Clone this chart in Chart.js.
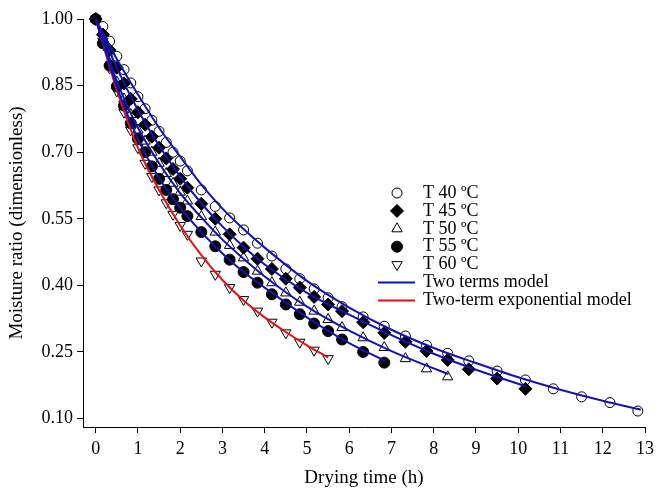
<!DOCTYPE html>
<html>
<head>
<meta charset="utf-8">
<script src="https://cdn.jsdelivr.net/npm/chart.js@4.4.0/dist/chart.umd.min.js"></script>
<style>
    html, body { margin: 0; padding: 0; background: #fff; }
    #kontener { width: 659px; height: 489px; }
</style>
</head>
<body>
<div id="kontener"><canvas id="canvasWykresu" width="659" height="489"></canvas></div>
<script>
// pomiary (czas w h, MR)
const czas40 = [0, 0.17, 0.33, 0.5, 0.67, 0.83, 1, 1.17, 1.33, 1.5, 1.67, 1.83, 2, 2.17, 2.5, 2.83, 3.17, 3.5, 3.83, 4.17, 4.5, 4.83, 5.17, 5.5, 5.83, 6.33, 6.83, 7.33, 7.83, 8.33, 8.83, 9.5, 10.17, 10.83, 11.5, 12.17, 12.83];
const mr40 = [1.0, 0.983, 0.95, 0.916, 0.886, 0.856, 0.825, 0.798, 0.772, 0.747, 0.722, 0.70, 0.68, 0.658, 0.615, 0.578, 0.552, 0.525, 0.495, 0.466, 0.437, 0.415, 0.392, 0.372, 0.352, 0.329, 0.308, 0.286, 0.265, 0.247, 0.23, 0.207, 0.187, 0.167, 0.149, 0.136, 0.117];

const czas45 = [0, 0.17, 0.33, 0.5, 0.67, 0.83, 1, 1.17, 1.33, 1.5, 1.67, 1.83, 2, 2.17, 2.5, 2.83, 3.17, 3.5, 3.83, 4.17, 4.5, 4.83, 5.17, 5.5, 5.83, 6.33, 6.83, 7.33, 7.83, 8.33, 8.83, 9.5, 10.17];
const mr45 = [1.0, 0.965, 0.93, 0.89, 0.855, 0.82, 0.79, 0.762, 0.735, 0.71, 0.686, 0.662, 0.64, 0.62, 0.584, 0.55, 0.515, 0.485, 0.46, 0.437, 0.415, 0.395, 0.374, 0.357, 0.342, 0.317, 0.293, 0.273, 0.252, 0.232, 0.211, 0.19, 0.167];

const czas50 = [0, 0.17, 0.33, 0.5, 0.67, 0.83, 1, 1.17, 1.33, 1.5, 1.67, 1.83, 2, 2.17, 2.5, 2.83, 3.17, 3.5, 3.83, 4.17, 4.5, 4.83, 5.17, 5.5, 5.83, 6.33, 6.83, 7.33, 7.83, 8.33];
const mr50 = [1.0, 0.95, 0.9, 0.858, 0.82, 0.785, 0.75, 0.725, 0.70, 0.675, 0.652, 0.63, 0.61, 0.59, 0.555, 0.52, 0.49, 0.462, 0.432, 0.406, 0.383, 0.362, 0.342, 0.323, 0.305, 0.282, 0.26, 0.235, 0.212, 0.194];

const czas55 = [0, 0.17, 0.33, 0.5, 0.67, 0.83, 1, 1.17, 1.33, 1.5, 1.67, 1.83, 2, 2.17, 2.5, 2.83, 3.17, 3.5, 3.83, 4.17, 4.5, 4.83, 5.17, 5.5, 5.83, 6.33, 6.83];
const mr55 = [1.0, 0.945, 0.895, 0.848, 0.805, 0.765, 0.73, 0.70, 0.668, 0.64, 0.615, 0.594, 0.575, 0.556, 0.52, 0.488, 0.458, 0.43, 0.406, 0.38, 0.357, 0.335, 0.314, 0.297, 0.278, 0.25, 0.226];

const czas60 = [0, 0.17, 0.33, 0.5, 0.67, 0.83, 1, 1.17, 1.33, 1.5, 1.67, 1.83, 2, 2.17, 2.5, 2.83, 3.17, 3.5, 3.83, 4.17, 4.5, 4.83, 5.17, 5.5];
const mr60 = [1.0, 0.95, 0.89, 0.838, 0.79, 0.75, 0.71, 0.675, 0.645, 0.615, 0.586, 0.56, 0.535, 0.515, 0.455, 0.425, 0.395, 0.368, 0.342, 0.317, 0.293, 0.272, 0.254, 0.235];

// krzywe modeli
const modelCzas40 = [0, 0.5, 1, 1.5, 2, 2.5, 3, 3.5, 4, 5, 6, 7, 8, 9, 10, 11, 12, 12.9];
const model40 = [1.0, 0.91, 0.83, 0.755, 0.69, 0.627, 0.573, 0.527, 0.485, 0.41, 0.35, 0.30, 0.259, 0.225, 0.193, 0.165, 0.14, 0.12];
const modelCzas45 = [0, 0.5, 1, 1.5, 2, 2.5, 3, 3.5, 4, 5, 6, 7, 8, 9, 10.2];
const model45 = [1.0, 0.89, 0.795, 0.715, 0.645, 0.585, 0.533, 0.487, 0.447, 0.383, 0.334, 0.288, 0.246, 0.21, 0.172];
const modelCzas50 = [0, 0.5, 1, 1.5, 2, 2.5, 3, 3.5, 4, 5, 6, 7, 8, 8.35];
const model50 = [1.0, 0.86, 0.755, 0.675, 0.608, 0.553, 0.503, 0.46, 0.42, 0.352, 0.298, 0.252, 0.213, 0.2];
const modelCzas55 = [0, 0.5, 1, 1.5, 2, 2.5, 3, 3.5, 4, 5, 6, 6.85];
const model55 = [1.0, 0.848, 0.73, 0.642, 0.575, 0.52, 0.472, 0.43, 0.395, 0.328, 0.27, 0.23];
const modelCzas60 = [0, 0.5, 1, 1.5, 2, 2.5, 3, 3.5, 4, 4.5, 5, 5.5];
const model60 = [1.0, 0.84, 0.71, 0.615, 0.535, 0.468, 0.412, 0.366, 0.328, 0.295, 0.265, 0.238];

const ticksX = [0, 1, 2, 3, 4, 5, 6, 7, 8, 9, 10, 11, 12, 13];
const ticksY = [0.10, 0.25, 0.40, 0.55, 0.70, 0.85, 1.00];

const NIEBIESKI = '#1212b8';
const CZERWONY = '#e01414';
const CZCIONKA = '"Liberation Serif", "Times New Roman", serif';

function punkty(xs, ys) {
    return xs.map((x, i) => ({ x: x, y: ys[i] }));
}

function seriaPomiarow(label, xs, ys, styl, pelny, obrot, promien) {
    return {
        label: label,
        data: punkty(xs, ys),
        showLine: false,
        pointStyle: styl,
        rotation: obrot,
        pointRadius: promien,
        pointHoverRadius: promien,
        pointBorderWidth: 1,
        pointBorderColor: '#000',
        pointBackgroundColor: pelny ? '#000' : 'rgba(0,0,0,0)',
        order: 2,
        clip: false
    };
}

function seriaModelu(label, xs, ys, kolor) {
    return {
        label: label,
        data: punkty(xs, ys),
        showLine: true,
        borderColor: kolor,
        borderWidth: 2,
        pointRadius: 0,
        pointHoverRadius: 0,
        cubicInterpolationMode: 'monotone',
        order: 1,
        clip: false
    };
}

const legendaPlugin = {
    id: 'legenda',
    afterDraw(chart) {
        const ctx = chart.ctx;
        const xZnacznika = 397;
        const xTekstu = 423;
        let y = 193;
        const pokazane = [];
        ctx.save();
        ctx.font = '18px ' + CZCIONKA;
        ctx.textBaseline = 'middle';
        chart.data.datasets.forEach(ds => {
            if (pokazane.includes(ds.label)) return;
            pokazane.push(ds.label);
            ctx.strokeStyle = '#000';
            ctx.fillStyle = '#000';
            ctx.lineWidth = 1;
            if (ds.showLine) {
                ctx.strokeStyle = ds.borderColor;
                ctx.lineWidth = 2;
                ctx.beginPath();
                ctx.moveTo(378, y);
                ctx.lineTo(415, y);
                ctx.stroke();
            } else {
                const r = ds.pointRadius;
                ctx.fillStyle = ds.pointBackgroundColor;
                ctx.beginPath();
                if (ds.pointStyle === 'circle') {
                    ctx.arc(xZnacznika, y, r, 0, Math.PI * 2);
                } else if (ds.pointStyle === 'rectRot') {
                    ctx.moveTo(xZnacznika, y - r);
                    ctx.lineTo(xZnacznika + r, y);
                    ctx.lineTo(xZnacznika, y + r);
                    ctx.lineTo(xZnacznika - r, y);
                } else {
                    const kier = ds.rotation === 180 ? -1 : 1;
                    ctx.moveTo(xZnacznika, y - kier * r);
                    ctx.lineTo(xZnacznika + r * 0.866, y + kier * r / 2);
                    ctx.lineTo(xZnacznika - r * 0.866, y + kier * r / 2);
                }
                ctx.closePath();
                ctx.fill();
                ctx.stroke();
            }
            ctx.fillStyle = '#000';
            ctx.fillText(ds.label, xTekstu, y);
            y += 17.9;
        });
        ctx.restore();
    }
};

const ctx = document.getElementById('canvasWykresu').getContext('2d');
const wykres = new Chart(ctx, {
    type: 'scatter',
    data: {
        datasets: [
            seriaPomiarow('T 40 ºC', czas40, mr40, 'circle', false, 0, 5),
            seriaPomiarow('T 45 ºC', czas45, mr45, 'rectRot', true, 0, 6.5),
            seriaPomiarow('T 50 ºC', czas50, mr50, 'triangle', false, 0, 6),
            seriaPomiarow('T 55 ºC', czas55, mr55, 'circle', true, 0, 5.5),
            seriaPomiarow('T 60 ºC', czas60, mr60, 'triangle', false, 180, 6),
            seriaModelu('Two terms model', modelCzas40, model40, NIEBIESKI),
            seriaModelu('Two terms model', modelCzas45, model45, NIEBIESKI),
            seriaModelu('Two terms model', modelCzas50, model50, NIEBIESKI),
            seriaModelu('Two terms model', modelCzas55, model55, NIEBIESKI),
            seriaModelu('Two-term exponential model', modelCzas60, model60, CZERWONY)
        ]
    },
    options: {
        responsive: false,
        animation: false,
        layout: { padding: { top: 19, right: 9, left: 0, bottom: 0 } },
        plugins: {
            legend: { display: false },
            tooltip: { enabled: false }
        },
        scales: {
            x: {
                type: 'linear',
                min: -0.3,
                max: 13,
                afterBuildTicks: s => { s.ticks = ticksX.map(v => ({ value: v })); },
                afterFit: s => { s.height = 62; },
                ticks: { color: '#000', font: { family: CZCIONKA, size: 18 }, padding: 5, maxRotation: 0 },
                grid: { drawOnChartArea: false, drawTicks: true, tickLength: 6, color: '#000' },
                border: { color: '#000', width: 1 },
                title: { display: true, text: 'Drying time (h)', color: '#000', font: { family: CZCIONKA, size: 19 }, padding: { top: 0, bottom: 0 } }
            },
            y: {
                type: 'linear',
                min: 0.081,
                max: 1.0,
                afterBuildTicks: s => { s.ticks = ticksY.map(v => ({ value: v })); },
                afterFit: s => { s.width = 83; },
                ticks: { color: '#000', font: { family: CZCIONKA, size: 18 }, padding: 4, callback: v => v.toFixed(2) },
                grid: { drawOnChartArea: false, drawTicks: true, tickLength: 6, color: '#000' },
                border: { color: '#000', width: 1 },
                title: { display: true, text: 'Moisture ratio (dimensionless)', color: '#000', font: { family: CZCIONKA, size: 19 }, padding: { top: 6, bottom: 0 } }
            }
        }
    },
    plugins: [legendaPlugin]
});
</script>
</body>
</html>
